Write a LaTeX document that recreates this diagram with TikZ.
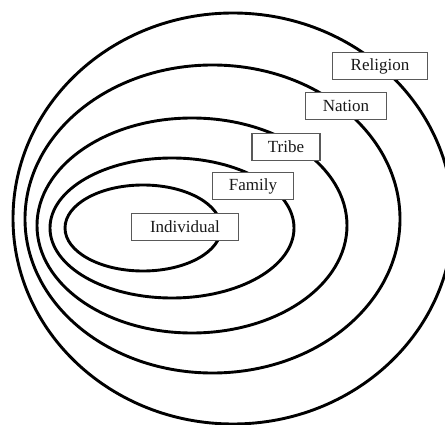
\documentclass[tikz,border=0pt]{standalone}
\usepackage{fontspec}
\setmainfont{Liberation Serif}
\begin{document}
\begin{tikzpicture}[x=1pt,y=-1pt,
  ring/.style={draw=black,line width=2.9pt},
  lab/.style={draw=black!65,line width=1.2pt,fill=white,minimum height=27pt,inner xsep=0pt,font=\fontsize{17}{18}\selectfont,text=black!90}]
\useasboundingbox (0,0) rectangle (445,425);
\draw[ring] (233,218.5) ellipse [x radius=220, y radius=205.5];
\draw[ring] (212.5,219) ellipse [x radius=187.5, y radius=154];
\draw[ring] (192,225.5) ellipse [x radius=155, y radius=107.5];
\draw[ring] (172,228) ellipse [x radius=122, y radius=70];
\draw[ring] (143,228) ellipse [x radius=78, y radius=43];
\node[lab,minimum width=95pt] (religion) at (380,66) {Religion};
\node[lab,minimum width=81pt] (nation) at (346,106) {Nation};
\node[lab,minimum width=68pt] (tribe) at (286,147) {Tribe};
\node[lab,minimum width=81pt] (family) at (253,186) {Family};
\node[lab,minimum width=107pt] (individual) at (185,227) {Individual};
\end{tikzpicture}
\end{document}
